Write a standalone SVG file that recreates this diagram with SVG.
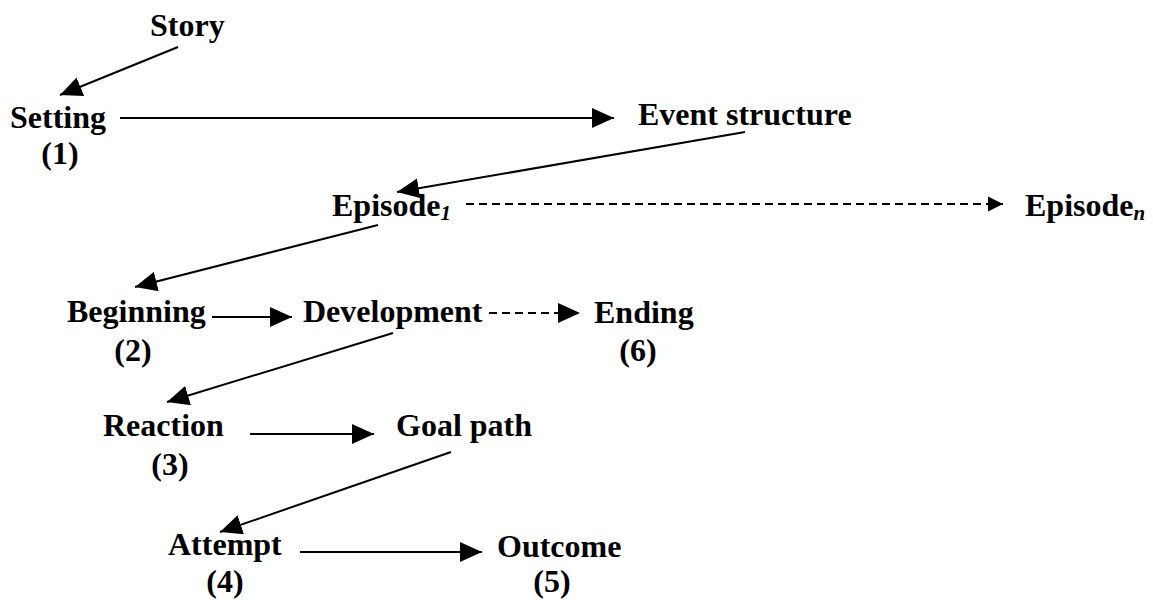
<svg xmlns="http://www.w3.org/2000/svg" width="1153" height="600" viewBox="0 0 1153 600">
  <style>
    .lbl { font-family: "Liberation Serif", "Times New Roman", serif; font-weight: bold; font-size: 32px; fill: #000; }
    .num { text-anchor: middle; }
    .sub { font-style: italic; font-size: 21px; }
    .edge { stroke: #000; stroke-width: 2; fill: none; marker-end: url(#head); }
    .dash { stroke-dasharray: 8 5; }
    .small { marker-end: url(#headSmall); }
  </style>
  <defs>
    <marker id="head" markerUnits="userSpaceOnUse" markerWidth="23" markerHeight="20" refX="22" refY="10" orient="auto">
      <path d="M0,0 L22,10 L0,20 Z" fill="#000"/>
    </marker>
    <marker id="headSmall" markerUnits="userSpaceOnUse" markerWidth="16" markerHeight="16" refX="15" refY="8" orient="auto">
      <path d="M0,0.5 L15,8 L0,15.5 Z" fill="#000"/>
    </marker>
  </defs>

  <!-- connectors -->
  <g id="connectors">
    <line class="edge" x1="178" y1="47" x2="60" y2="95"/>
    <line class="edge" x1="120" y1="118" x2="614" y2="118"/>
    <line class="edge" x1="745" y1="132" x2="397" y2="192"/>
    <line class="edge dash small" x1="466" y1="204" x2="1003" y2="204"/>
    <line class="edge" x1="378" y1="225" x2="135" y2="287"/>
    <line class="edge" x1="212" y1="317" x2="292" y2="317"/>
    <line class="edge dash" x1="489" y1="313" x2="580" y2="313"/>
    <line class="edge" x1="393" y1="333" x2="167" y2="402"/>
    <line class="edge" x1="250" y1="434" x2="374" y2="434"/>
    <line class="edge" x1="451" y1="452" x2="220" y2="532"/>
    <line class="edge" x1="300" y1="552" x2="482" y2="552"/>
  </g>

  <!-- nodes -->
  <g id="story"><text class="lbl" x="150" y="36">Story</text></g>
  <g id="setting">
    <text class="lbl" x="10" y="128">Setting</text>
    <text class="lbl num" x="60" y="164">(1)</text>
  </g>
  <g id="event-structure"><text class="lbl" x="638" y="125">Event structure</text></g>
  <g id="episode-1"><text class="lbl" x="332" y="216">Episode<tspan class="sub" dy="4">1</tspan></text></g>
  <g id="episode-n"><text class="lbl" x="1025" y="216">Episode<tspan class="sub" dy="4">n</tspan></text></g>
  <g id="beginning">
    <text class="lbl" x="67" y="322">Beginning</text>
    <text class="lbl num" x="133" y="361">(2)</text>
  </g>
  <g id="development"><text class="lbl" x="303" y="322">Development</text></g>
  <g id="ending">
    <text class="lbl" x="594" y="323">Ending</text>
    <text class="lbl num" x="638" y="361">(6)</text>
  </g>
  <g id="reaction">
    <text class="lbl" x="103" y="436">Reaction</text>
    <text class="lbl num" x="170" y="475">(3)</text>
  </g>
  <g id="goal-path"><text class="lbl" x="396" y="436">Goal path</text></g>
  <g id="attempt">
    <text class="lbl" x="168" y="555">Attempt</text>
    <text class="lbl num" x="225" y="592">(4)</text>
  </g>
  <g id="outcome">
    <text class="lbl" x="497" y="557">Outcome</text>
    <text class="lbl num" x="552" y="592">(5)</text>
  </g>
</svg>
